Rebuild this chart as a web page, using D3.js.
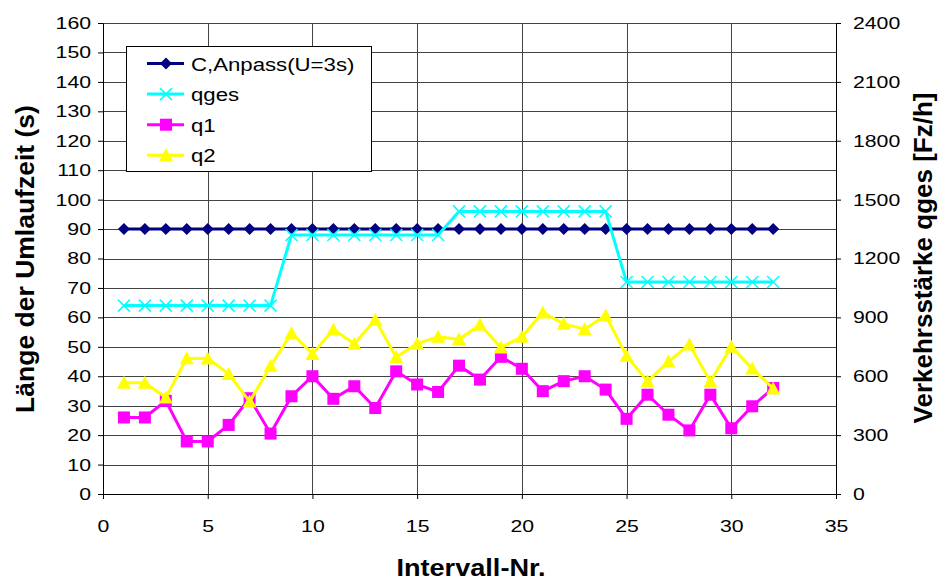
<!DOCTYPE html>
<html>
<head>
<meta charset="utf-8">
<script src="https://cdn.jsdelivr.net/npm/d3@7"></script>
<style>
  body { margin: 0; background: #fff; }
  text { font-family: "Liberation Sans", Arial, sans-serif; }
</style>
</head>
<body>
<svg id="chart" width="943" height="581"></svg>
<script>
// data
const intervals = d3.range(1, 33);
const cAnpass = intervals.map(() => 90);
const qges = [960, 960, 960, 960, 960, 960, 960, 960,
  1320, 1320, 1320, 1320, 1320, 1320, 1320, 1320,
  1440, 1440, 1440, 1440, 1440, 1440, 1440, 1440,
  1080, 1080, 1080, 1080, 1080, 1080, 1080, 1080];
const q1 = [390, 390, 475, 268, 268, 352, 488, 308, 498, 600, 485, 549, 438, 625, 558, 520,
  654, 583, 699, 638, 524, 575, 600, 532, 383, 506, 404, 324, 506, 335, 447, 540];
const q2 = [567, 567, 492, 692, 690, 612, 471, 652, 820, 714, 838, 766, 888, 698, 766, 801,
  788, 862, 747, 801, 925, 867, 840, 910, 703, 574, 675, 762, 573, 750, 639, 538];
const xTicks = d3.range(0, 36, 5);
const yLeftTicks = d3.range(0, 161, 10);
const yRightTicks = d3.range(0, 2401, 300);

const svg = d3.select("#chart");
const m = { left: 103, right: 836, top: 23, bottom: 494 };
const stretch = 1.25; // the reference text is wider than plain Arial

const x = d3.scaleLinear().domain([0, 35]).range([m.left, m.right]);
const yL = d3.scaleLinear().domain([0, 160]).range([m.bottom, m.top]);
const yR = d3.scaleLinear().domain([0, 2400]).range([m.bottom, m.top]);

// grid
const grid = svg.append("g").attr("stroke-width", 1).attr("shape-rendering", "crispEdges");
grid.selectAll(".h").data(yLeftTicks).join("line")
  .attr("x1", m.left).attr("x2", m.right)
  .attr("y1", d => Math.round(yL(d)) + 0.5).attr("y2", d => Math.round(yL(d)) + 0.5)
  .attr("stroke", "#444");
grid.selectAll(".v").data(xTicks).join("line")
  .attr("y1", m.top).attr("y2", m.bottom)
  .attr("x1", d => Math.round(x(d)) + 0.5).attr("x2", d => Math.round(x(d)) + 0.5)
  .attr("stroke", "#444");

// axes
function styleAxis(g) {
  g.select(".domain").attr("stroke", "#000");
  g.selectAll(".tick line").attr("stroke", "#000");
  g.selectAll(".tick text").attr("font-size", 17).attr("fill", "#000")
    .attr("font-family", "'Liberation Sans', Arial, sans-serif")
    .each(function() {
      const t = d3.select(this);
      t.attr("x", (+t.attr("x") || 0) / stretch).attr("transform", `scale(${stretch},1)`);
    });
}
svg.append("g").attr("transform", `translate(0,${m.bottom})`)
  .call(d3.axisBottom(x).tickValues(xTicks).tickSize(5).tickPadding(21).tickSizeOuter(0))
  .call(styleAxis);
svg.append("g").attr("transform", `translate(${m.left},0)`)
  .call(d3.axisLeft(yL).tickValues(yLeftTicks).tickSize(5).tickPadding(7).tickSizeOuter(0))
  .call(styleAxis);
svg.append("g").attr("transform", `translate(${m.right},0)`)
  .call(d3.axisRight(yR).tickValues(yRightTicks).tickFormat(d3.format("d"))
    .tickSize(5).tickPadding(12).tickSizeOuter(0))
  .call(styleAxis);

// axis titles
svg.append("text").attr("transform", `translate(471,576) scale(1.18,1)`).attr("text-anchor", "middle")
  .attr("font-size", 23).attr("font-weight", "bold").text("Intervall-Nr.");
svg.append("text").attr("transform", "translate(34,259) rotate(-90)").attr("text-anchor", "middle")
  .attr("font-size", 26.5).attr("font-weight", "bold").text("Länge der Umlaufzeit (s)");
svg.append("text").attr("transform", "translate(932,258) rotate(-90)").attr("text-anchor", "middle")
  .attr("font-size", 26).attr("font-weight", "bold").text("Verkehrsstärke qges [Fz/h]");

// series
const series = [
  { name: "C,Anpass(U=3s)", values: cAnpass, y: yL, color: "#000080", marker: "diamond" },
  { name: "qges", values: qges, y: yR, color: "#00FFFF", marker: "cross" },
  { name: "q1", values: q1, y: yR, color: "#FF00FF", marker: "square" },
  { name: "q2", values: q2, y: yR, color: "#FFFF00", marker: "triangle" }
];

function drawMarker(g, type, color) {
  if (type === "diamond") {
    g.append("path").attr("d", "M0,-6L6,0L0,6L-6,0Z").attr("fill", color);
  } else if (type === "square") {
    g.append("rect").attr("x", -6).attr("y", -6).attr("width", 12).attr("height", 12).attr("fill", color);
  } else if (type === "triangle") {
    g.append("path").attr("d", "M0,-7L7,6L-7,6Z").attr("fill", color);
  } else if (type === "cross") {
    g.append("path").attr("d", "M-6,-6L6,6M6,-6L-6,6").attr("stroke", color).attr("stroke-width", 1.5);
  }
}

series.forEach(s => {
  const line = d3.line().x((d, i) => x(intervals[i])).y(d => s.y(d));
  svg.append("path").datum(s.values).attr("d", line)
    .attr("fill", "none").attr("stroke", s.color).attr("stroke-width", 3)
    .attr("stroke-linejoin", "miter");
  s.values.forEach((v, i) => {
    const g = svg.append("g").attr("transform", `translate(${x(intervals[i])},${s.y(v)})`);
    drawMarker(g, s.marker, s.color);
  });
});

// legend
const legend = svg.append("g");
legend.append("rect").attr("x", 126.5).attr("y", 46.5).attr("width", 245).attr("height", 125)
  .attr("fill", "#fff").attr("stroke", "#000");
series.forEach((s, i) => {
  const ly = 63.5 + i * 30.6;
  legend.append("line").attr("x1", 147).attr("x2", 184).attr("y1", ly).attr("y2", ly)
    .attr("stroke", s.color).attr("stroke-width", 3);
  drawMarker(legend.append("g").attr("transform", `translate(166,${ly})`), s.marker, s.color);
  legend.append("text").attr("transform", `translate(191,${ly + 7}) scale(1.2,1)`)
    .attr("font-size", 18.5).text(s.name);
});
</script>
</body>
</html>
